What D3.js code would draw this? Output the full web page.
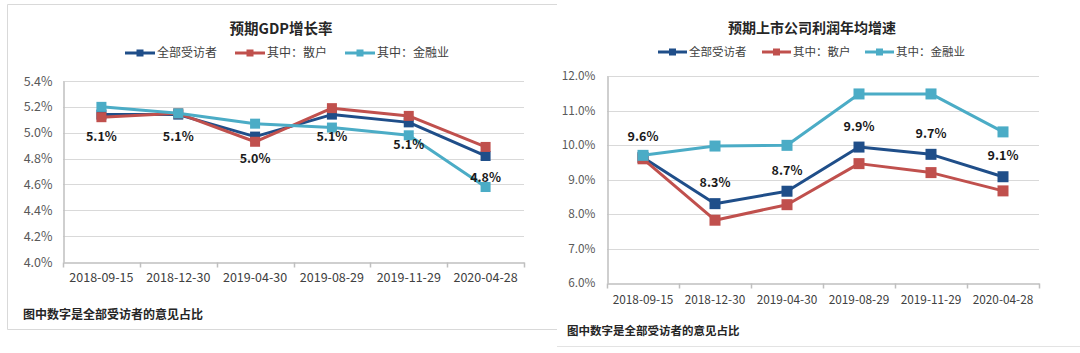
<!DOCTYPE html>
<html><head><meta charset="utf-8">
<script src="https://cdn.jsdelivr.net/npm/d3@7"></script>
<style>
html,body{margin:0;padding:0;background:#fff;}
svg{display:block;font-family:"Noto Sans CJK SC","Noto Sans",sans-serif;}
</style></head>
<body>
<svg id="c" width="1080" height="353"></svg>
<script>
// ---------- data ----------
const categories = ["2018-09-15","2018-12-30","2019-04-30","2019-08-29","2019-11-29","2020-04-28"];
const seriesNames = ["全部受访者","其中：散户","其中：金融业"];

const gdpAll    = [5.14, 5.14, 4.97, 5.14, 5.08, 4.82];
const gdpRetail = [5.12, 5.15, 4.93, 5.19, 5.13, 4.89];
const gdpFin    = [5.20, 5.15, 5.07, 5.04, 4.98, 4.58];
const gdpTicks  = [4.0, 4.2, 4.4, 4.6, 4.8, 5.0, 5.2, 5.4];

const profAll    = [9.64, 8.30, 8.66, 9.94, 9.73, 9.08];
const profRetail = [9.60, 7.82, 8.27, 9.46, 9.20, 8.67];
const profFin    = [9.70, 9.97, 9.99, 11.48, 11.48, 10.38];
const profTicks  = [6, 7, 8, 9, 10, 11, 12];

const titles = ["预期GDP增长率", "预期上市公司利润年均增速"];
const noteText = "图中数字是全部受访者的意见占比";
const colors = ["#1F4E89", "#C0504D", "#4BACC6"];

// ---------- drawing ----------
const svg = d3.select("#c");
const FONT = '"Noto Sans CJK SC","Noto Sans",sans-serif';

// panel frames
svg.append("path").attr("d","M557,4.5H7.5V329.5H557").attr("fill","none").attr("stroke","#d9d9d9");
svg.append("line").attr("x1",557).attr("x2",1080).attr("y1",346.5).attr("y2",346.5)
  .attr("stroke","#e3e3e3");

function drawChart(cfg){
  const g = svg.append("g");
  const x = d3.scaleBand().domain(categories).range([cfg.x0, cfg.x1]);
  const y = d3.scaleLinear().domain(cfg.domain).range([cfg.y1, cfg.y0]);

  // title
  g.append("text").attr("x",cfg.titleX).attr("y",cfg.titleY)
    .attr("text-anchor","middle").attr("font-size",cfg.titleSize).attr("font-weight","bold")
    .attr("fill","#262626").text(cfg.title);

  // legend
  seriesNames.forEach((n,i)=>{
    const lx = cfg.legendX[i], ly = cfg.legendY;
    g.append("line").attr("x1",lx).attr("x2",lx+cfg.legLine).attr("y1",ly).attr("y2",ly)
      .attr("stroke",colors[i]).attr("stroke-width",3);
    g.append("rect").attr("x",lx+cfg.legLine/2-3.5).attr("y",ly-3.5).attr("width",7).attr("height",7)
      .attr("fill",colors[i]);
    g.append("text").attr("x",lx+cfg.legLine+2).attr("y",ly).attr("dy","0.36em")
      .attr("font-size",cfg.legSize).attr("fill","#404040").text(n);
  });

  // gridlines
  g.append("g").selectAll("line").data(cfg.ticks.slice(1)).join("line")
    .attr("x1",cfg.x0).attr("x2",cfg.x1)
    .attr("y1",d=>Math.round(y(d))+0.5).attr("y2",d=>Math.round(y(d))+0.5)
    .attr("stroke","#d9d9d9").attr("stroke-width",1);

  // y axis
  const ya = g.append("g").attr("transform",`translate(${cfg.x0+0.5},0)`)
    .call(d3.axisLeft(y).tickValues(cfg.ticks).tickFormat(d=>d3.format(".1f")(d)+"%").tickSize(0).tickPadding(cfg.yPad));
  ya.attr("font-family",FONT);
  ya.select(".domain").attr("stroke","#bfbfbf").attr("stroke-width",1.5);
  ya.selectAll("text").attr("font-size",cfg.tickSize).attr("fill","#595959");

  // x axis
  const xa = g.append("g").attr("transform",`translate(0,${Math.round(cfg.y1)+0.5})`)
    .call(d3.axisBottom(x).tickSize(0).tickPadding(cfg.xPad));
  xa.attr("font-family",FONT);
  xa.select(".domain").attr("stroke","#bfbfbf").attr("stroke-width",1.5);
  xa.selectAll("text").attr("font-size",cfg.tickSize).attr("fill","#404040");
  // boundary tick marks
  const bounds = categories.map(c=>x(c)).concat([cfg.x1]);
  xa.append("g").selectAll("line").data(bounds).join("line")
    .attr("x1",d=>Math.round(d)+0.5).attr("x2",d=>Math.round(d)+0.5)
    .attr("y1",0).attr("y2",5).attr("stroke","#bfbfbf").attr("stroke-width",1.5);

  // series
  const line = d3.line().x((d,i)=>x(categories[i])+x.bandwidth()/2).y(d=>y(d));
  cfg.series.forEach((s,si)=>{
    g.append("path").datum(s).attr("d",line).attr("fill","none")
      .attr("stroke",colors[si]).attr("stroke-width",3).attr("stroke-linejoin","round");
    g.append("g").selectAll("rect").data(s).join("rect")
      .attr("x",(d,i)=>x(categories[i])+x.bandwidth()/2-cfg.mk/2)
      .attr("y",d=>y(d)-cfg.mk/2).attr("width",cfg.mk).attr("height",cfg.mk)
      .attr("fill",colors[si]);
  });

  // data labels (全部受访者)
  g.append("g").selectAll("text").data(cfg.series[0]).join("text")
    .attr("x",(d,i)=>x(categories[i])+x.bandwidth()/2)
    .attr("y",d=>y(d)+cfg.labelDy).attr("dy","0.36em")
    .attr("text-anchor","middle").attr("font-size",cfg.labelSize).attr("font-weight","bold")
    .attr("fill","#1a1a1a").text(d=>d3.format(".1f")(d)+"%");

  // note
  g.append("text").attr("x",cfg.noteX).attr("y",cfg.noteY).attr("dy","0.36em")
    .attr("font-size",cfg.noteSize).attr("font-weight","bold").attr("fill","#262626").text(noteText);
}

drawChart({
  title: titles[0], titleX: 281, titleY: 34, titleSize: 14.5,
  legendX: [125, 235, 345], legendY: 53, legLine: 30, legSize: 12,
  x0: 63, x1: 524, y0: 81, y1: 262, domain: [4.0, 5.4], ticks: gdpTicks,
  yPad: 11, xPad: 11, tickSize: 12.5, mk: 10,
  series: [gdpAll, gdpRetail, gdpFin], labelDy: 22, labelSize: 12.5,
  noteX: 23, noteY: 315, noteSize: 12
});

drawChart({
  title: titles[1], titleX: 812, titleY: 33, titleSize: 14,
  legendX: [658, 762, 865], legendY: 52, legLine: 29, legSize: 11.5,
  x0: 607, x1: 1039, y0: 76, y1: 283, domain: [6, 12], ticks: profTicks,
  yPad: 12, xPad: 12, tickSize: 11.8, mk: 11,
  series: [profAll, profRetail, profFin], labelDy: -21, labelSize: 12.5,
  noteX: 567, noteY: 331, noteSize: 11.5
});
</script>
</body></html>
